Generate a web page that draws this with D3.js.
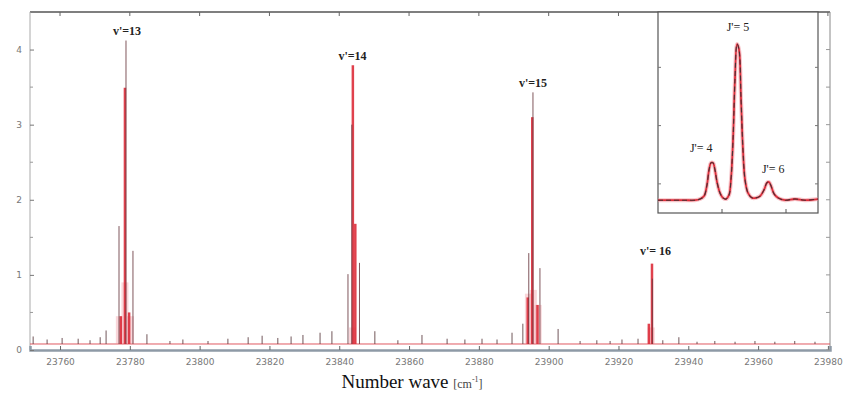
<!DOCTYPE html>
<html>
<head>
<meta charset="utf-8">
<script src="https://cdn.jsdelivr.net/npm/d3@7"></script>
<style>
    body { margin: 0; background: #fff; }
    svg { display: block; }
</style>
</head>
<body>
<svg id="mainChart" width="847" height="394"></svg>
<script>
// ---- data ----
const xTicks = [23760, 23780, 23800, 23820, 23840, 23860, 23880, 23900, 23920, 23940, 23960, 23980];
const yTicks = [0, 1, 2, 3, 4];
const yMinorTicks = [0.5, 1.5, 2.5, 3.5];
const baseLevel = 0.08;

// small bumps along the baseline (wavenumber, intensity)
const minorPos = [23752.3, 23756.3, 23760.6, 23765.2, 23768.6, 23771.5, 23773.2, 23784.9, 23791.5, 23795.2,
    23802.4, 23808.1, 23813.9, 23817.9, 23822.4, 23826.2, 23829.6, 23834.5, 23837.9, 23850.2,
    23856.8, 23863.7, 23870.9, 23876.0, 23880.9, 23885.2, 23889.5, 23892.6, 23902.7, 23909.0,
    23913.8, 23917.6, 23921.0, 23925.6, 23932.7, 23937.3, 23942.5, 23947.6, 23953.4, 23959.1,
    23964.8, 23970.5, 23976.3];
const minorHeight = [0.18, 0.14, 0.16, 0.15, 0.13, 0.17, 0.26, 0.21, 0.12, 0.14,
    0.12, 0.15, 0.17, 0.19, 0.16, 0.18, 0.2, 0.23, 0.25, 0.25,
    0.13, 0.2, 0.15, 0.14, 0.15, 0.14, 0.23, 0.35, 0.28, 0.12,
    0.13, 0.12, 0.14, 0.15, 0.13, 0.17, 0.11, 0.12, 0.11, 0.12,
    0.11, 0.12, 0.11];

// broad pink glow under the strong bands
const glowPos = [23777.0, 23778.6, 23780.2, 23843.8, 23894.2, 23895.6, 23897.0, 23929.4];
const glowHeight = [0.45, 0.9, 0.45, 0.3, 0.75, 0.8, 0.6, 0.3];

// red simulated lines
const redPos = [23777.4, 23778.6, 23779.8, 23843.9, 23844.6, 23894.0, 23895.3, 23896.8, 23928.7, 23929.6];
const redHeight = [0.45, 3.49, 0.5, 3.79, 1.68, 0.7, 3.1, 0.6, 0.35, 1.15];

// dark measured lines
const darkPos = [23776.9, 23778.9, 23780.9, 23842.5, 23843.6, 23845.8, 23894.3, 23895.5, 23897.5, 23929.7];
const darkHeight = [1.65, 4.12, 1.32, 1.01, 3.0, 1.16, 1.29, 3.43, 1.09, 0.95];

const bandLabels = ["v'=13", "v'=14", "v'=15", "v'= 16"];
const bandLabelPos = [23779.2, 23843.8, 23895.5, 23930.6];
const bandLabelHeight = [4.2, 3.86, 3.5, 1.27];

// inset: J' structure of one band
const insetX = [0, 0.75, 1.69, 2.31, 2.63, 2.88, 3.06, 3.19, 3.31, 3.44, 3.56, 3.69, 3.88, 4.06, 4.25, 4.44,
    4.56, 4.69, 4.81, 4.94, 5.06, 5.19, 5.31, 5.44, 5.63, 5.88, 6.13, 6.38, 6.63, 6.81, 6.94, 7.06,
    7.25, 7.5, 7.94, 8.56, 9.19, 10];
const insetY = [0.22, 0.22, 0.22, 0.22, 0.24, 0.29, 0.48, 0.74, 0.86, 0.86, 0.74, 0.53, 0.34, 0.26, 0.24, 0.31,
    0.57, 1.26, 2.29, 2.9, 2.81, 1.95, 1.09, 0.57, 0.34, 0.26, 0.26, 0.29, 0.4, 0.52, 0.53, 0.47,
    0.33, 0.26, 0.22, 0.24, 0.22, 0.24];
const insetXTicks = [4, 8];
const insetYTicks = [0.5, 1.5, 2.5];
const insetLabels = ["J'= 4", "J'= 5", "J'= 6"];
const insetLabelX = [2.7, 5.0, 7.2];
const insetLabelY = [1.05, 3.12, 0.68];

// ---- drawing ----
const svg = d3.select("#mainChart");
const mLeft = 30, mRight = 830, mTop = 12, mBottom = 350;

const scaleX = d3.scaleLinear().domain([23751.4, 23980.6]).range([mLeft, mRight]);
const scaleY = d3.scaleLinear().domain([0, 4.5]).range([mBottom, mTop]);

// frame
svg.append("line").attr("x1", mLeft).attr("x2", mRight).attr("y1", mTop).attr("y2", mTop)
    .attr("stroke", "#555").attr("stroke-width", 1.5);
svg.append("line").attr("x1", mLeft).attr("x2", mLeft).attr("y1", mTop).attr("y2", mBottom)
    .attr("stroke", "#aaa");
svg.append("line").attr("x1", mRight).attr("x2", mRight).attr("y1", mTop).attr("y2", mBottom)
    .attr("stroke", "#888");

// x axis
const axisX = d3.axisBottom(scaleX).tickValues(xTicks).tickSize(-4).tickPadding(9)
    .tickFormat(d3.format("d"));
const gx = svg.append("g").attr("transform", `translate(0,${mBottom})`).call(axisX);
gx.select(".domain").attr("stroke", "#8e9aa6").attr("stroke-width", 2.5);
gx.selectAll(".tick line").attr("stroke", "#666");
gx.selectAll("text").attr("fill", "#777").attr("font-family", "DejaVu Sans").attr("font-size", 9);

// top mirrored ticks
svg.append("g").selectAll("line").data(xTicks).join("line")
    .attr("x1", d => scaleX(d)).attr("x2", d => scaleX(d))
    .attr("y1", mTop).attr("y2", mTop + 4).attr("stroke", "#666");

// y axis
const axisY = d3.axisLeft(scaleY).tickValues(yTicks).tickSize(-4).tickPadding(8)
    .tickFormat(d3.format("d"));
const gy = svg.append("g").attr("transform", `translate(${mLeft},0)`).call(axisY);
gy.select(".domain").remove();
gy.selectAll(".tick line").attr("stroke", "#777");
gy.selectAll("text").attr("fill", "#777").attr("font-family", "DejaVu Sans").attr("font-size", 9);

svg.append("g").selectAll("line").data(yMinorTicks).join("line")
    .attr("x1", mLeft).attr("x2", mLeft + 3)
    .attr("y1", d => scaleY(d)).attr("y2", d => scaleY(d)).attr("stroke", "#999");
svg.append("g").selectAll("line").data(yTicks.concat(yMinorTicks)).join("line")
    .attr("x1", mRight).attr("x2", mRight - 4)
    .attr("y1", d => scaleY(d)).attr("y2", d => scaleY(d)).attr("stroke", "#999");

// baseline trace
svg.append("line").attr("x1", scaleX(23751.4)).attr("x2", scaleX(23980.6))
    .attr("y1", scaleY(baseLevel)).attr("y2", scaleY(baseLevel))
    .attr("stroke", "#e05a62").attr("stroke-width", 1);

const sticks = (pos, h, color, width, opacity) => {
    svg.append("g").selectAll("line").data(pos).join("line")
        .attr("x1", d => scaleX(d)).attr("x2", d => scaleX(d))
        .attr("y1", scaleY(baseLevel)).attr("y2", (d, i) => scaleY(h[i]))
        .attr("stroke", color).attr("stroke-width", width).attr("opacity", opacity);
};

sticks(minorPos, minorHeight, "#5a3a3e", 1, 0.85);
sticks(glowPos, glowHeight, "#f28c96", 7, 0.35);
sticks(redPos, redHeight, "#dd2d3a", 2.5, 0.9);
sticks(darkPos, darkHeight, "#6b3a40", 1, 0.85);

// band labels
svg.append("g").selectAll("text").data(bandLabels).join("text")
    .attr("x", (d, i) => scaleX(bandLabelPos[i]))
    .attr("y", (d, i) => scaleY(bandLabelHeight[i]))
    .attr("text-anchor", "middle")
    .attr("font-family", "Liberation Serif").attr("font-size", 12).attr("font-weight", "bold")
    .attr("fill", "#222")
    .text(d => d);

// x title
const title = svg.append("text").attr("x", 412).attr("y", 388).attr("text-anchor", "middle")
    .attr("font-family", "Liberation Serif").attr("fill", "#111");
title.append("tspan").attr("font-size", 19).text("Number wave ");
title.append("tspan").attr("font-size", 12).attr("fill", "#444").text("[cm");
title.append("tspan").attr("font-size", 8).attr("fill", "#444").attr("dy", -6).text("-1");
title.append("tspan").attr("font-size", 12).attr("fill", "#444").attr("dy", 6).text("]");

// ---- inset ----
const iLeft = 658, iRight = 818, iTop = 12, iBottom = 213;
const insetScaleX = d3.scaleLinear().domain([0, 10]).range([iLeft, iRight]);
const insetScaleY = d3.scaleLinear().domain([0, 3.45]).range([iBottom, iTop]);

svg.append("rect").attr("x", iLeft).attr("y", iTop)
    .attr("width", iRight - iLeft).attr("height", iBottom - iTop)
    .attr("fill", "#fff").attr("stroke", "#555").attr("stroke-width", 1.2);

svg.append("g").selectAll("line").data(insetXTicks).join("line")
    .attr("x1", d => insetScaleX(d)).attr("x2", d => insetScaleX(d))
    .attr("y1", iBottom).attr("y2", iBottom - 4).attr("stroke", "#555");
svg.append("g").selectAll("line").data(insetYTicks).join("line")
    .attr("x1", iLeft).attr("x2", iLeft + 3)
    .attr("y1", d => insetScaleY(d)).attr("y2", d => insetScaleY(d)).attr("stroke", "#777");
svg.append("g").selectAll("line").data(insetYTicks).join("line")
    .attr("x1", iRight).attr("x2", iRight - 3)
    .attr("y1", d => insetScaleY(d)).attr("y2", d => insetScaleY(d)).attr("stroke", "#777");

const insetLine = d3.line()
    .x(d => insetScaleX(d[0])).y(d => insetScaleY(d[1]))
    .curve(d3.curveCatmullRom);
const insetPts = insetX.map((x, i) => [x, insetY[i]]);

svg.append("path").datum(insetPts).attr("d", insetLine)
    .attr("fill", "none").attr("stroke", "#f08a94").attr("stroke-width", 4).attr("opacity", 0.5);
svg.append("path").datum(insetPts).attr("d", insetLine)
    .attr("fill", "none").attr("stroke", "#dd2d3a").attr("stroke-width", 1.8);
svg.append("path").datum(insetPts).attr("d", insetLine)
    .attr("fill", "none").attr("stroke", "#4a3034").attr("stroke-width", 1.1)
    .attr("stroke-dasharray", "5,3");

svg.append("g").selectAll("text").data(insetLabels).join("text")
    .attr("x", (d, i) => insetScaleX(insetLabelX[i]))
    .attr("y", (d, i) => insetScaleY(insetLabelY[i]))
    .attr("text-anchor", "middle")
    .attr("font-family", "Liberation Serif").attr("font-size", 12)
    .attr("fill", "#222")
    .text(d => d);
</script>
</body>
</html>
